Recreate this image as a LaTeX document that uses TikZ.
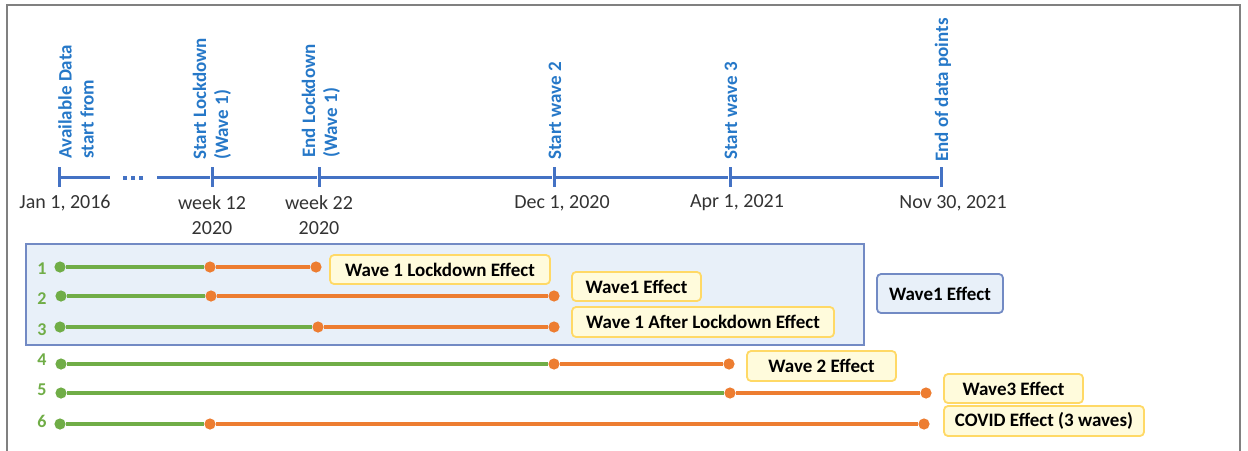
\documentclass[tikz,border=0pt]{standalone}
\usepackage{fontspec}
\setmainfont{Carlito}
\definecolor{axisblue}{RGB}{68,114,196}
\definecolor{labblue}{RGB}{38,120,200}
\definecolor{pregreen}{RGB}{112,173,71}
\definecolor{postorange}{RGB}{237,125,49}
\definecolor{notefill}{RGB}{255,251,220}
\definecolor{noteedge}{RGB}{255,217,102}
\definecolor{boxfill}{RGB}{232,240,249}
\definecolor{boxedge}{RGB}{114,138,196}
\definecolor{datetext}{RGB}{51,51,51}
\definecolor{framegray}{RGB}{128,128,128}

\begin{document}
\begin{tikzpicture}[x=0.5pt, y=-0.5pt,
	tickmark/.style={shape=rectangle, fill=axisblue, inner sep=0pt, minimum width=1.5pt, minimum height=10pt},
	gapdot/.style={shape=rectangle, fill=axisblue, inner sep=0pt, minimum size=2.4pt},
	axisline/.style={draw=axisblue, line width=1.5pt},
	event/.style={rotate=90, anchor=west, align=left, inner sep=0pt, text=labblue, font=\fontsize{9.5}{11}\selectfont\bfseries},
	datelab/.style={align=center, inner sep=0pt, text=datetext, font=\fontsize{10}{12.5}\selectfont},
	dotg/.style={shape=circle, fill=pregreen, inner sep=0pt, minimum size=5.6pt},
	doto/.style={shape=circle, fill=postorange, inner sep=0pt, minimum size=5.6pt},
	preline/.style={draw=pregreen, line width=1.9pt},
	postline/.style={draw=postorange, line width=1.9pt},
	note/.style={draw=noteedge, fill=notefill, rounded corners=2pt, line width=0.9pt, inner sep=0pt, font=\fontsize{9.5}{11}\selectfont\bfseries, minimum height=14.5pt},
	rownum/.style={text=pregreen, inner sep=0pt, font=\fontsize{9}{11}\selectfont\bfseries}]

	\useasboundingbox (0,0) rectangle (1248,450);
	\draw[framegray, line width=1pt] (7,452) -- (7,5) -- (1240,5) -- (1240,452);

	% time axis
	\node[tickmark] (t0) at (59,177) {};
	\coordinate (g1) at (110,177);
	\coordinate (g2) at (157,177);
	\node[tickmark] (t1) at (212,177) {};
	\node[tickmark] (t2) at (319,177) {};
	\node[tickmark] (t3) at (554,177) {};
	\node[tickmark] (t4) at (730,177) {};
	\node[tickmark] (t5) at (941,177) {};

	\node[gapdot] (d1) at (125,178) {};
	\node[gapdot] (d2) at (133,178) {};
	\node[gapdot] (d3) at (141,178) {};

	\path [axisline] (t0) edge (g1);
	\path [axisline] (g2) edge (t1);
	\path [axisline] (t1) edge (t2);
	\path [axisline] (t2) edge (t3);
	\path [axisline] (t3) edge (t4);
	\path [axisline] (t4) edge (t5);

	\node[event] (e0) at (76,159) {Available Data\\start from};
	\node[event] (e1) at (212,160) {Start Lockdown\\(Wave 1)};
	\node[event] (e2) at (321,158) {End Lockdown\\(Wave 1)};
	\node[event] (e3) at (555,160) {Start wave 2};
	\node[event] (e4) at (731,160) {Start wave 3};
	\node[event] (e5) at (943,162) {End of data points};

	\node[datelab] (l0) at (65,203) {Jan 1, 2016};
	\node[datelab] (l1) at (212,215.5) {week 12\\2020};
	\node[datelab] (l2) at (319,215.5) {week 22\\2020};
	\node[datelab] (l3) at (562,203) {Dec 1, 2020};
	\node[datelab] (l4) at (737,203) {Apr 1, 2021};
	\node[datelab] (l5) at (953,203) {Nov 30, 2021};

	% wave 1 group
	\draw[draw=boxedge, fill=boxfill, line width=0.9pt] (26,244) rectangle (864,345);
	\node[note, draw=boxedge, fill=boxfill, minimum width=63pt, minimum height=19.5pt] (key) at (940,293.5) {Wave1 Effect};

	% periods
	\node[rownum] (n1) at (42,269) {1};
	\node[rownum] (n2) at (42,299) {2};
	\node[rownum] (n3) at (42,330) {3};
	\node[rownum] (n4) at (42,360) {4};
	\node[rownum] (n5) at (42,390) {5};
	\node[rownum] (n6) at (42,421) {6};

	\node[dotg] (r1s) at (60,267) {};
	\node[doto] (r1m) at (210,267) {};
	\node[doto] (r1e) at (316,267) {};

	\node[dotg] (r2s) at (61,296) {};
	\node[doto] (r2m) at (211,296) {};
	\node[doto] (r2e) at (554,296) {};

	\node[dotg] (r3s) at (60,327) {};
	\node[doto] (r3m) at (318,327) {};
	\node[doto] (r3e) at (554,327) {};

	\node[dotg] (r4s) at (61,364) {};
	\node[doto] (r4m) at (554,364) {};
	\node[doto] (r4e) at (729,364) {};

	\node[dotg] (r5s) at (61,393) {};
	\node[doto] (r5m) at (730,393) {};
	\node[doto] (r5e) at (926,393) {};

	\node[dotg] (r6s) at (60,424) {};
	\node[doto] (r6m) at (210,424) {};
	\node[doto] (r6e) at (924,424) {};

	\path [preline] (r1s) edge (r1m);
	\path [preline] (r2s) edge (r2m);
	\path [preline] (r3s) edge (r3m);
	\path [preline] (r4s) edge (r4m);
	\path [preline] (r5s) edge (r5m);
	\path [preline] (r6s) edge (r6m);

	\path [postline] (r1m) edge (r1e);
	\path [postline] (r2m) edge (r2e);
	\path [postline] (r3m) edge (r3e);
	\path [postline] (r4m) edge (r4e);
	\path [postline] (r5m) edge (r5e);
	\path [postline] (r6m) edge (r6e);

	\node[note, minimum width=110pt] (w1) at (440,269.5) {Wave 1 Lockdown Effect};
	\node[note, minimum width=64.5pt] (w2) at (636.5,286.5) {Wave1 Effect};
	\node[note, minimum width=131pt, minimum height=15pt] (w3) at (703,322) {Wave 1 After Lockdown Effect};
	\node[note, minimum width=74.5pt, minimum height=15pt] (w4) at (821.5,366) {Wave 2 Effect};
	\node[note, minimum width=69.5pt] (w5) at (1013.5,388.5) {Wave3 Effect};
	\node[note, minimum width=100pt, minimum height=15pt] (w6) at (1044,421) {COVID Effect (3 waves)};

\end{tikzpicture}
\end{document}
